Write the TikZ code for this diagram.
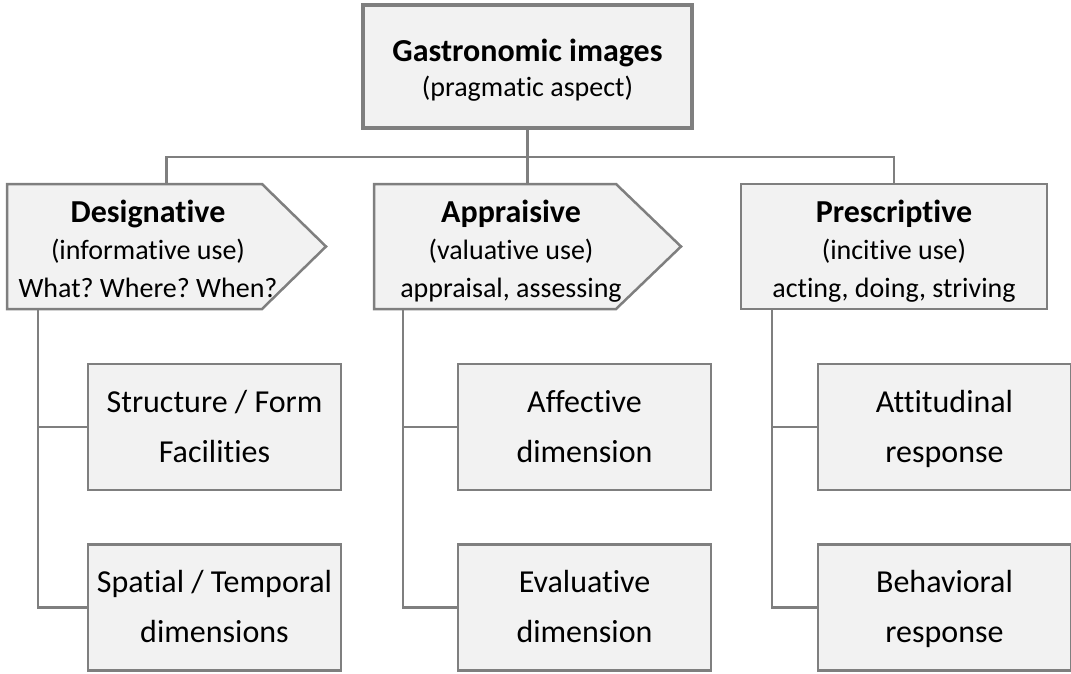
\documentclass[tikz,border=0pt]{standalone}
\usepackage{fontspec}
\setmainfont{Carlito}[Ligatures=NoCommon]
\usetikzlibrary{calc}
\frenchspacing
\definecolor{edgegray}{HTML}{7F7F7F}
\definecolor{boxfill}{HTML}{F2F2F2}
% fixed line struts so every label sits on the same baselines
\newcommand{\substrut}{\rule[-10pt]{0pt}{30pt}}
\newcommand{\usestrut}{\rule[-9pt]{0pt}{26pt}}
\newcommand{\headline}[1]{{\bfseries\fontsize{32}{37.5}\selectfont #1}}
\tikzset{
  wire/.style={draw=edgegray, line width=2.5pt},
  outline/.style={draw=edgegray, fill=boxfill, line width=2.5pt},
  frame/.style={inner sep=0pt, outer sep=0pt},
  rootbox/.style={frame, draw=edgegray, fill=boxfill, line width=4.5pt,
    minimum width=328.6pt, minimum height=122.6pt},
  subbox/.style={frame, outline, minimum width=253pt, minimum height=126pt},
  usebox/.style={frame, minimum width=#1, minimum height=125pt},
  usetext/.style={inner sep=0pt, align=center, font=\fontsize{28}{37.5}\selectfont},
  roottext/.style={inner sep=0pt, align=center, font=\fontsize{28}{35}\selectfont},
  subtext/.style={inner sep=0pt, align=center, font=\fontsize{32}{50}\selectfont}
}
\begin{document}
\begin{tikzpicture}[x=1pt,y=-1pt]
\useasboundingbox (0,0) rectangle (1071,673);

% top concept
\node[rootbox] (root) at (527.5,66.5) {};
\node[roottext] (roottxt) at (527.5,72) {\usestrut{\bfseries\fontsize{32}{35}\selectfont Gastronomic images}\\\usestrut(pragmatic aspect)};

% three kinds of use
\node[usebox=319pt] (des) at (166.5,246.5) {};
\node[usebox=307pt] (app) at (527.5,246.5) {};
\node[usebox=306pt] (pre) at (894,246.5) {};

\filldraw[outline] (des.north west) -- ([xshift=-64pt]des.north east) -- (des.east)
  -- ([xshift=-64pt]des.south east) -- (des.south west) -- cycle;
\filldraw[outline] (app.north west) -- ([xshift=-65pt]app.north east) -- (app.east)
  -- ([xshift=-65pt]app.south east) -- (app.south west) -- cycle;
\filldraw[outline] (pre.north west) rectangle (pre.south east);

\node[usetext] (destxt) at (148,253) {\usestrut\headline{Designative}\\\usestrut(informative use)\\\usestrut What? Where? When?};
\node[usetext] (apptxt) at (511,253) {\usestrut\headline{Appraisive}\\\usestrut(valuative use)\\\usestrut appraisal, assessing};
\node[usetext] (pretxt) at (894,253) {\usestrut\headline{Prescriptive}\\\usestrut(incitive use)\\\usestrut acting, doing, striving};

% dimensions
\node[subbox] (d1) at (214.5,427) {};
\node[subbox] (d2) at (214.5,607.5) {};
\node[subbox] (a1) at (584.5,427) {};
\node[subbox] (a2) at (584.5,607.5) {};
\node[subbox] (p1) at (944.5,427) {};
\node[subbox] (p2) at (944.5,607.5) {};
\node[subtext] (d1txt) at ([yshift=-4pt]d1.center) {\substrut Structure / Form\\\substrut Facilities};
\node[subtext] (d2txt) at ([yshift=-4pt]d2.center) {\substrut Spatial / Temporal\\\substrut dimensions};
\node[subtext] (a1txt) at ([yshift=-4pt]a1.center) {\substrut Affective\\\substrut dimension};
\node[subtext] (a2txt) at ([yshift=-4pt]a2.center) {\substrut Evaluative\\\substrut dimension};
\node[subtext] (p1txt) at ([yshift=-4pt]p1.center) {\substrut Attitudinal\\\substrut response};
\node[subtext] (p2txt) at ([yshift=-4pt]p2.center) {\substrut Behavioral\\\substrut response};

% connectors
\coordinate (bus) at (527.5,157);
\draw[wire] (root.south) -- (bus);
\draw[wire] (des.north) |- (bus) -| (pre.north);
\draw[wire] (bus) -- (app.north);

\coordinate (desroot) at ($(des.south west)+(31,0)$);
\coordinate (approot) at ($(app.south west)+(29,0)$);
\coordinate (preroot) at ($(pre.south west)+(31,0)$);
\draw[wire] (desroot) |- (d1.west);
\draw[wire] (desroot) |- (d2.west);
\draw[wire] (approot) |- (a1.west);
\draw[wire] (approot) |- (a2.west);
\draw[wire] (preroot) |- (p1.west);
\draw[wire] (preroot) |- (p2.west);
\end{tikzpicture}
\end{document}
